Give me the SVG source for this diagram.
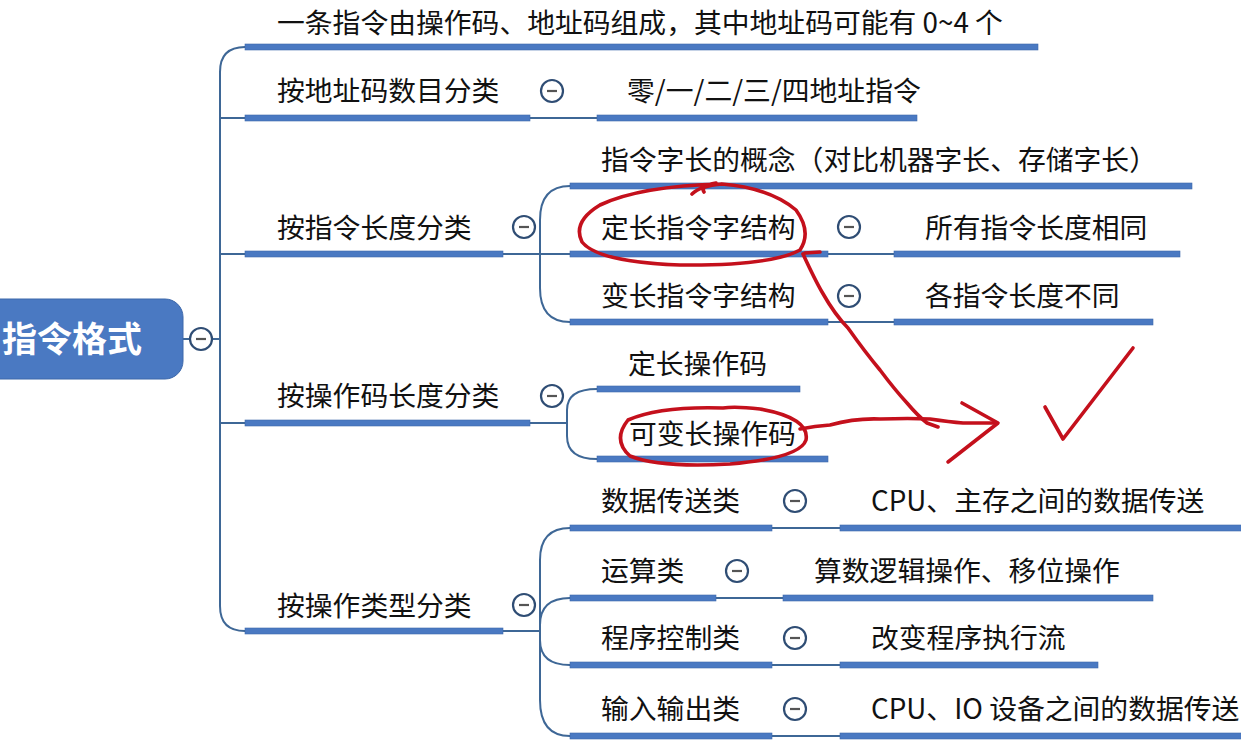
<svg xmlns="http://www.w3.org/2000/svg" width="1241" height="741" viewBox="0 0 1241 741">
<style>
.t{font-family:"Noto Sans CJK SC","Noto Sans",sans-serif;font-size:27.8px;fill:#111}
.bar{fill:#4a79c2;stroke:#3d68aa;stroke-width:0.6}
.ln{fill:none;stroke:#3e6796;stroke-width:2}
.cc{fill:#fff;stroke:#2f4d74;stroke-width:2.2}
.mn{stroke:#555;stroke-width:2.2}
.red{fill:none;stroke:#c4101c;stroke-width:3.6;stroke-linecap:round;stroke-linejoin:round}
</style>
<defs>
<g id="col"><circle class="cc" r="11"/><line class="mn" x1="-5" y1="0" x2="5" y2="0"/></g>
</defs>
<rect width="1241" height="741" fill="#fff"/>
<g id="connectors">
<line class="ln" x1="183" y1="339" x2="220" y2="339"/>
<path class="ln" d="M245,47 Q220,47 220,72 L220,606 Q220,631 245,631"/>
<line class="ln" x1="220" y1="118" x2="245" y2="118"/>
<line class="ln" x1="220" y1="254" x2="245" y2="254"/>
<line class="ln" x1="220" y1="423" x2="245" y2="423"/>
<line class="ln" x1="530" y1="118" x2="597" y2="118"/>
<path class="ln" d="M503,254 L540,254 M570,186 Q540,186 540,220 L540,288 Q540,322 570,322 M540,254 L570,254"/>
<line class="ln" x1="828" y1="254" x2="894" y2="254"/>
<line class="ln" x1="828" y1="322" x2="894" y2="322"/>
<path class="ln" d="M530,423 L567,423 M597,389 Q567,389 567,410 L567,436 Q567,459 597,459"/>
<path class="ln" d="M503,631 L540,631 M570,528 Q540,528 540,560 L540,700 Q540,736 570,736 M570,598 Q540,598 540,625 M570,665 Q540,665 540,640"/>
<line class="ln" x1="772" y1="528" x2="840" y2="528"/>
<line class="ln" x1="716" y1="598" x2="783" y2="598"/>
<line class="ln" x1="772" y1="665" x2="840" y2="665"/>
<line class="ln" x1="772" y1="736" x2="840" y2="736"/>
</g>
<g id="root">
<rect x="-20" y="299" width="203" height="80" rx="18" fill="#4a79c2" stroke="#3d68aa"/>
<text x="2" y="352" style="font-family:'Noto Sans CJK SC',sans-serif;font-size:35px;font-weight:bold;fill:#fff">指令格式</text>
<use href="#col" x="201" y="339"/>
</g>
<g id="n1"><text class="t" x="277" y="33">一条指令由操作码、地址码组成，其中地址码可能有 0~4 个</text><rect class="bar" x="245" y="44" width="793" height="6"/></g>
<g id="n2"><text class="t" x="277" y="101">按地址码数目分类</text><rect class="bar" x="245" y="115" width="285" height="6"/><use href="#col" x="552" y="91"/></g>
<g id="n2a"><text class="t" x="627" y="101">零/一/二/三/四地址指令</text><rect class="bar" x="597" y="115" width="320" height="6"/></g>
<g id="n3"><text class="t" x="277" y="238">按指令长度分类</text><rect class="bar" x="245" y="251" width="258" height="6"/><use href="#col" x="524" y="227"/></g>
<g id="n3a"><text class="t" x="601" y="170">指令字长的概念（对比机器字长、存储字长）</text><rect class="bar" x="570" y="183" width="622" height="6"/></g>
<g id="n3b"><text class="t" x="601" y="238">定长指令字结构</text><rect class="bar" x="570" y="251" width="258" height="6"/><use href="#col" x="849" y="227"/></g>
<g id="n3b1"><text class="t" x="925" y="238">所有指令长度相同</text><rect class="bar" x="894" y="251" width="286" height="6"/></g>
<g id="n3c"><text class="t" x="601" y="306">变长指令字结构</text><rect class="bar" x="570" y="319" width="258" height="6"/><use href="#col" x="849" y="296"/></g>
<g id="n3c1"><text class="t" x="925" y="306">各指令长度不同</text><rect class="bar" x="894" y="319" width="259" height="6"/></g>
<g id="n4"><text class="t" x="277" y="406">按操作码长度分类</text><rect class="bar" x="245" y="420" width="285" height="6"/><use href="#col" x="552" y="396"/></g>
<g id="n4a"><text class="t" x="628" y="374">定长操作码</text><rect class="bar" x="597" y="386" width="203" height="6"/></g>
<g id="n4b"><text class="t" x="629" y="444">可变长操作码</text><rect class="bar" x="597" y="456" width="231" height="6"/></g>
<g id="n5"><text class="t" x="277" y="616">按操作类型分类</text><rect class="bar" x="245" y="628" width="258" height="6"/><use href="#col" x="524" y="605"/></g>
<g id="n5a"><text class="t" x="601" y="511">数据传送类</text><rect class="bar" x="570" y="525" width="202" height="6"/><use href="#col" x="795" y="501"/></g>
<g id="n5a1"><text class="t" x="871" y="511">CPU、主存之间的数据传送</text><rect class="bar" x="840" y="525" width="410" height="6"/></g>
<g id="n5b"><text class="t" x="601" y="581">运算类</text><rect class="bar" x="570" y="595" width="146" height="6"/><use href="#col" x="737" y="571"/></g>
<g id="n5b1"><text class="t" x="814" y="581">算数逻辑操作、移位操作</text><rect class="bar" x="783" y="595" width="370" height="6"/></g>
<g id="n5c"><text class="t" x="601" y="648">程序控制类</text><rect class="bar" x="570" y="662" width="202" height="6"/><use href="#col" x="795" y="638"/></g>
<g id="n5c1"><text class="t" x="871" y="648">改变程序执行流</text><rect class="bar" x="840" y="662" width="258" height="6"/></g>
<g id="n5d"><text class="t" x="601" y="719">输入输出类</text><rect class="bar" x="570" y="733" width="202" height="6"/><use href="#col" x="795" y="709"/></g>
<g id="n5d1"><text class="t" x="871" y="719">CPU、IO 设备之间的数据传送</text><rect class="bar" x="840" y="733" width="410" height="6"/></g>
<g id="annotations">
<path class="red" d="M692,194 Q700,186 722,184 Q640,186 600,205 Q572,222 582,242 Q598,262 680,265 Q770,266 800,250 Q812,232 796,210 Q770,188 722,184 M716,183 Q700,186 704,192"/>
<path class="red" d="M805,253 L820,252 M803,254 Q815,280 822,292 Q835,315 848,328 Q865,352 880,370 Q895,390 907,403 Q918,416 927,423 L938,427"/>
<path class="red" d="M723,408 Q660,406 628,420 Q612,440 630,456 Q660,468 730,464 Q800,458 806,440 Q810,418 760,409 Q735,406 723,408"/>
<path class="red" d="M800,429 Q815,426 830,425 Q855,418 880,419 Q910,418 930,419 Q950,422 963,423 L997,423"/>
<path class="red" d="M962,403 L998,423 L948,462"/>
<path class="red" d="M1045,407 L1063,439 L1133,348"/>
</g>
</svg>
